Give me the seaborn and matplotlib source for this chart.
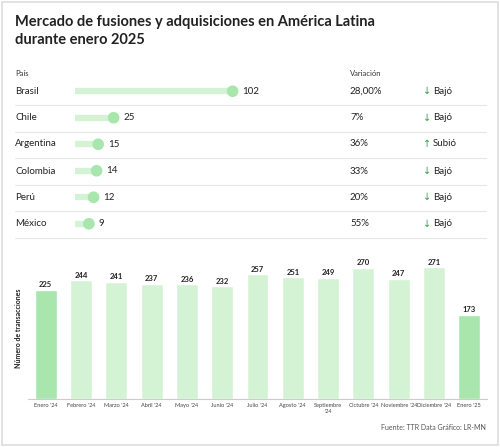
import matplotlib
matplotlib.use("Agg")
import matplotlib.pyplot as plt
import seaborn as sns
import pandas as pd
from matplotlib.patches import Rectangle

sns.set_theme(style="white")
plt.rcParams['font.family'] = ['Lato', 'DejaVu Sans']

paises = ["Brasil", "Chile", "Argentina", "Colombia", "Perú", "México"]
operaciones = [102, 25, 15, 14, 12, 9]
variacion = ["28,00%", "7%", "36%", "33%", "20%", "55%"]
tendencia = ["Bajó", "Bajó", "Subió", "Bajó", "Bajó", "Bajó"]

meses = ["Enero '24", "Febrero '24", "Marzo '24", "Abril '24", "Mayo '24", "Junio '24",
         "Julio '24", "Agosto '24", "Septiembre\n'24", "Octubre '24", "Noviembre '24",
         "Diciembre '24", "Enero '25"]
transacciones = [225, 244, 241, 237, 236, 232, 257, 251, 249, 270, 247, 271, 173]

W, H = 500, 447
fig = plt.figure(figsize=(W/100, H/100), dpi=100)
fig.patch.set_facecolor("white")
fig.patches.append(Rectangle((0.004, 0.004), 0.992, 0.992, transform=fig.transFigure,
                             fill=False, edgecolor="#dddddd", lw=1.2))

def fx(px): return px / W
def fy(py): return 1 - py / H

fig.text(fx(15), fy(22), "Mercado de fusiones y adquisiciones en América Latina",
         fontsize=10.5, fontweight="bold", color="#222222", va="center")
fig.text(fx(15), fy(40), "durante enero 2025", fontsize=10.5, fontweight="bold",
         color="#222222", va="center")

# table
fig.text(fx(15), fy(73), "País", fontsize=5.5, color="#333333", va="center")
fig.text(fx(350), fy(73), "Variación", fontsize=5.5, color="#333333", va="center")
row_y = [91, 118, 144, 171, 197, 224]
for i, (p, v, t) in enumerate(zip(paises, variacion, tendencia)):
    y = row_y[i]
    fig.text(fx(15), fy(y), p, fontsize=7, color="#222222", va="center")
    fig.text(fx(350), fy(y), v, fontsize=7, color="#222222", va="center")
    arrow = "↑" if t == "Subió" else "↓"
    fig.text(fx(423), fy(y), arrow, fontsize=7, color="#3a9e4a", va="center",
             family="DejaVu Sans")
    fig.text(fx(433), fy(y), t, fontsize=7, color="#222222", va="center")
    fig.lines.append(plt.Line2D([fx(15), fx(486)], [fy(y + 13.5), fy(y + 13.5)],
                                transform=fig.transFigure, color="#e6e6e6", lw=0.8))

ax1 = fig.add_axes([fx(75), fy(237), 170 / W, (237 - 78) / H])
ax1.set_xlim(0, 110)
ax1.set_ylim(len(paises) - 0.5, -0.5)
for i, v in enumerate(operaciones):
    ax1.plot([0, v], [i, i], color="#d4f3d4", lw=4.5, solid_capstyle="butt")
sns.scatterplot(x=operaciones, y=list(range(len(paises))), ax=ax1, s=70,
                color="#a8e6ad", edgecolor="none", zorder=3)
for i, v in enumerate(operaciones):
    ax1.annotate(str(v), (v, i), xytext=(7, 0), textcoords="offset points",
                 va="center", ha="left", fontsize=7, color="#222222")
ax1.axis("off")

# bar chart
ax2 = fig.add_axes([fx(28), fy(399), (487 - 28) / W, 141 / H])
df = pd.DataFrame({"mes": meses, "n": transacciones})
colors = ["#a8e6ad" if m.startswith("Enero") else "#d4f3d4" for m in meses]
sns.barplot(data=df, x="mes", y="n", hue="mes", palette=colors, legend=False,
            ax=ax2, width=0.62, saturation=1)
ax2.set_ylim(0, 290)
for i, v in enumerate(transacciones):
    ax2.text(i, v + 3, str(v), ha="center", va="bottom", fontsize=5.5,
             fontweight="bold", color="#222222")
ax2.set_yticks([])
ax2.set_xlabel("")
ax2.set_ylabel("Número de transacciones", fontsize=5, fontweight="bold",
               color="#222222", labelpad=4)
ax2.tick_params(axis="x", labelsize=4.1, colors="#444444", length=0, pad=3)
for s in ["top", "right", "left"]:
    ax2.spines[s].set_visible(False)
ax2.spines["bottom"].set_color("#cccccc")
ax2.spines["bottom"].set_linewidth(0.8)

fig.text(fx(486), fy(428), "Fuente: TTR Data Gráfico: LR-MN", fontsize=5,
         color="#555555", ha="right", va="center")

fig.savefig("out.png", dpi=100, facecolor="white")
